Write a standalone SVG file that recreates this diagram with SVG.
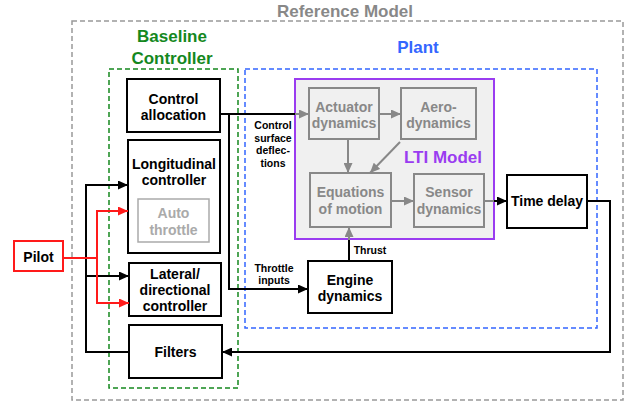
<svg xmlns="http://www.w3.org/2000/svg" width="639" height="405" viewBox="0 0 639 405">
<defs>
<style>
text{font-family:"Liberation Sans",Arial,sans-serif;font-weight:bold;text-anchor:middle}
.box{fill:#fff;stroke:#000;stroke-width:2}
.gbox{fill:#f0f0f0;stroke:#888;stroke-width:2}
.t14{font-size:14px;fill:#000}
.g14{font-size:14px;fill:#888}
.lbl{font-size:10.5px;fill:#000}
.ln{fill:none;stroke:#000;stroke-width:2}
.gln{fill:none;stroke:#888;stroke-width:2}
.rln{fill:none;stroke:#ff1a1a;stroke-width:2}
</style>
<marker id="ab" markerUnits="userSpaceOnUse" markerWidth="10" markerHeight="9" refX="10" refY="4.5" orient="auto"><path d="M0,0 L10,4.5 L0,9 z" fill="#000"/></marker>
<marker id="ag" markerUnits="userSpaceOnUse" markerWidth="10" markerHeight="9" refX="10" refY="4.5" orient="auto"><path d="M0,0 L10,4.5 L0,9 z" fill="#888"/></marker>
<marker id="ar" markerUnits="userSpaceOnUse" markerWidth="10" markerHeight="9" refX="10" refY="4.5" orient="auto"><path d="M0,0 L10,4.5 L0,9 z" fill="#ff1a1a"/></marker>
</defs>

<g id="reference-model">
<rect x="72" y="21" width="551" height="379" fill="none" stroke="#999" stroke-width="1.5" stroke-dasharray="5,3"/>
<text x="345" y="17" style="font-size:17px;fill:#888">Reference Model</text>
</g>

<g id="baseline-controller">
<rect x="109" y="69" width="129" height="319" fill="none" stroke="#14881e" stroke-width="1.5" stroke-dasharray="5,3"/>
<text x="172" y="42" style="font-size:17px;fill:#14881e">Baseline</text>
<text x="172" y="64" style="font-size:17px;fill:#14881e">Controller</text>
</g>

<g id="plant">
<rect x="245" y="69" width="352" height="259" fill="none" stroke="#3366ff" stroke-width="1.5" stroke-dasharray="5,3"/>
<text x="418" y="53" style="font-size:17px;fill:#3366ff">Plant</text>
</g>

<g id="lti-model">
<rect x="295" y="79" width="199" height="160" fill="#f0f0f0" stroke="#9a3cf0" stroke-width="2"/>
<text x="443" y="163" style="font-size:17px;fill:#9a3cf0">LTI Model</text>
</g>

<g id="actuator-dynamics">
<rect class="gbox" x="309" y="88" width="70" height="51"/>
<text class="g14" x="344" y="112">Actuator</text>
<text class="g14" x="344" y="128">dynamics</text>
</g>

<g id="aerodynamics">
<rect class="gbox" x="401" y="88" width="75" height="51"/>
<text class="g14" x="438.500" y="112">Aero-</text>
<text class="g14" x="438.500" y="128">dynamics</text>
</g>

<g id="equations-of-motion">
<rect class="gbox" x="310" y="173" width="81" height="54"/>
<text class="g14" x="350.500" y="197">Equations</text>
<text class="g14" x="350.500" y="214">of motion</text>
</g>

<g id="sensor-dynamics">
<rect class="gbox" x="414" y="174" width="70" height="53"/>
<text class="g14" x="449" y="197">Sensor</text>
<text class="g14" x="449" y="214">dynamics</text>
</g>

<g id="control-allocation">
<rect class="box" x="127" y="79" width="93" height="53"/>
<text class="t14" x="173.500" y="104">Control</text>
<text class="t14" x="173.500" y="120">allocation</text>
</g>

<g id="longitudinal-controller">
<rect class="box" x="128" y="140" width="92" height="113"/>
<text class="t14" x="174" y="169">Longitudinal</text>
<text class="t14" x="174" y="185">controller</text>
</g>

<g id="auto-throttle">
<rect x="138" y="199" width="71" height="43" fill="#fff" stroke="#aaa" stroke-width="1.5"/>
<text x="173.500" y="218" style="font-size:14px;fill:#aaa">Auto</text>
<text x="173.500" y="235" style="font-size:14px;fill:#aaa">throttle</text>
</g>

<g id="lateral-directional-controller">
<rect class="box" x="129" y="263" width="92" height="53"/>
<text class="t14" x="175" y="279">Lateral/</text>
<text class="t14" x="175" y="295">directional</text>
<text class="t14" x="175" y="311">controller</text>
</g>

<g id="filters">
<rect class="box" x="129" y="325" width="93" height="53"/>
<text class="t14" x="175.500" y="357">Filters</text>
</g>

<g id="time-delay">
<rect class="box" x="507" y="175" width="80" height="53"/>
<text class="t14" x="547" y="206">Time delay</text>
</g>

<g id="engine-dynamics">
<rect class="box" x="308" y="261" width="84" height="52"/>
<text class="t14" x="350" y="285">Engine</text>
<text class="t14" x="350" y="301">dynamics</text>
</g>

<g id="pilot">
<rect x="14" y="241" width="49" height="30" fill="#fff" stroke="#ff1a1a" stroke-width="2"/>
<text class="t14" x="38.500" y="262">Pilot</text>
</g>

<g id="connectors">
<path class="ln" d="M220,114 H296"/>
<path class="gln" d="M295,114 H309" marker-end="url(#ag)"/>
<path class="ln" d="M229,114 V289 H308" marker-end="url(#ab)"/>
<path class="gln" d="M379,114 H401" marker-end="url(#ag)"/>
<path class="gln" d="M348,139 V173" marker-end="url(#ag)"/>
<path class="gln" d="M400,142 L370,173" marker-end="url(#ag)"/>
<path class="gln" d="M391,201 H414" marker-end="url(#ag)"/>
<path class="gln" d="M484,201 H495"/>
<path class="ln" d="M494,201 H507" marker-end="url(#ab)"/>
<path class="ln" d="M587,201 H610 V352 H222" marker-end="url(#ab)"/>
<path class="ln" d="M129,352 H86 V185 H128" marker-end="url(#ab)"/>
<path class="ln" d="M86,276 H129" marker-end="url(#ab)"/>
<path class="ln" d="M349,261 V239"/>
<path class="gln" d="M349,240 V227" marker-end="url(#ag)"/>
<path class="rln" d="M63,258 H97"/>
<path class="rln" d="M97,258 V211 H128" marker-end="url(#ar)"/>
<path class="rln" d="M97,258 V303 H129" marker-end="url(#ar)"/>
<text class="lbl" x="273" y="129">Control</text>
<text class="lbl" x="273" y="141.500">surface</text>
<text class="lbl" x="273" y="154">deflec-</text>
<text class="lbl" x="273" y="166.500">tions</text>
<text class="lbl" x="274" y="272">Throttle</text>
<text class="lbl" x="274" y="284">inputs</text>
<text class="lbl" x="370" y="254">Thrust</text>
</g>
</svg>
